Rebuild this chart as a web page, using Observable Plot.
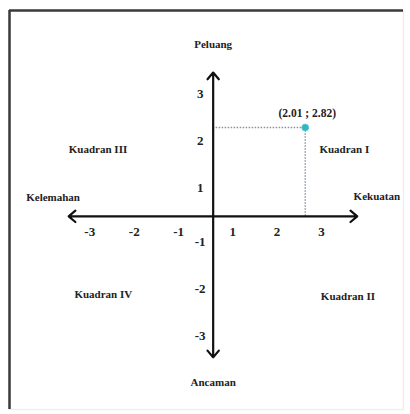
<!DOCTYPE html>
<html>
<head>
<meta charset="utf-8">
<script src="https://cdn.jsdelivr.net/npm/d3@7"></script>
<script src="https://cdn.jsdelivr.net/npm/@observablehq/plot@0.6"></script>
<style>
  html, body { margin: 0; padding: 0; background: #fff; }
  #chart svg { display: block; }
</style>
</head>
<body>
<div id="chart"></div>
<script>
// ---- data ----
const xTicks = [-3, -2, -1, 1, 2, 3];
const yTicks = [-3, -2, -1, 1, 2, 3];
const axisExtentX = [-3.25, 3.24];
const axisExtentY = [-3.0, 3.06];
const pointX = [2.07];
const pointY = [1.89];
const pointLabel = ["(2.01 ; 2.82)"];
const axisTitles = ["Peluang", "Ancaman", "Kelemahan", "Kekuatan"];
const axisTitleX = [0, 0, -3.6, 3.68];
const axisTitleY = [3.65, -3.53, 0.4, 0.43];
const quadrantNames = ["Kuadran I", "Kuadran II", "Kuadran III", "Kuadran IV"];
const quadrantX = [2.95, 3.03, -2.59, -2.47];
const quadrantY = [1.42, -1.7, 1.42, -1.67];

// ---- tables built from the arrays ----
const arrows = [
  ...axisExtentX.map(v => ({x1: 0, y1: 0, x2: v, y2: 0})),
  ...axisExtentY.map(v => ({x1: 0, y1: 0, x2: 0, y2: v}))
];
const pt = pointX.map((x, i) => ({x, y: pointY[i], label: pointLabel[i]}));
const titles = axisTitles.map((t, i) => ({t, x: axisTitleX[i], y: axisTitleY[i]}));
const quads = quadrantNames.map((t, i) => ({t, x: quadrantX[i], y: quadrantY[i]}));
const xNeg = xTicks.filter(d => d < 0), xPos = xTicks.filter(d => d > 0);
const yNeg = yTicks.filter(d => d < 0), yPos = yTicks.filter(d => d > 0);

const serif = "'Liberation Serif', 'Times New Roman', serif";
const xDomain = [-4.58, 4.28];
const yDomain = [-4.11, 4.38];
const tickStyle = {fontSize: 13, fontWeight: "bold", fill: "#222", text: d => String(d)};

const chart = Plot.plot({
  width: 410,
  height: 414,
  marginLeft: 9,
  marginTop: 10,
  marginRight: 7,
  marginBottom: 5,
  x: {domain: xDomain, axis: null},
  y: {domain: yDomain, axis: null},
  style: {fontFamily: serif, background: "#fff"},
  marks: [
    Plot.frame({stroke: "#efefef", strokeWidth: 1.5}),
    Plot.ruleX([xDomain[0]], {stroke: "#3a3a3a", strokeWidth: 2.5}),
    Plot.ruleY([yDomain[1]], {stroke: "#3a3a3a", strokeWidth: 2.5}),
    // dotted guides
    Plot.ruleY(pt, {y: "y", x1: 0, x2: "x", stroke: "#8593a3", strokeWidth: 1.4, strokeDasharray: "1.5,1.5"}),
    Plot.ruleX(pt, {x: "x", y1: 0, y2: "y", stroke: "#8593a3", strokeWidth: 1.4, strokeDasharray: "1.5,1.5"}),
    // axes with arrows
    Plot.arrow(arrows, {x1: "x1", y1: "y1", x2: "x2", y2: "y2", stroke: "#111", strokeWidth: 2.2, headLength: 6, headAngle: 80}),
    // tick labels
    Plot.text(xNeg, {x: d => d, y: d => 0, dy: 15, dx: 10, ...tickStyle}),
    Plot.text(xPos, {x: d => d, y: d => 0, dy: 15, dx: -25, ...tickStyle}),
    Plot.text(yPos, {x: d => 0, y: d => d, dx: -13, dy: 18, ...tickStyle}),
    Plot.text(yNeg, {x: d => 0, y: d => d, dx: -13, dy: -22, ...tickStyle}),
    // point
    Plot.dot(pt, {x: "x", y: "y", r: 3.5, fill: "#33b5bd", stroke: "#5fd0d5", strokeWidth: 0.8}),
    Plot.text(pt, {x: "x", y: "y", text: "label", dy: -14, dx: 2, fontSize: 11.5, fontWeight: "bold", fill: "#222"}),
    // axis titles and quadrant labels
    Plot.text(titles, {x: "x", y: "y", text: "t", fontSize: 11, fontWeight: "bold", fill: "#222"}),
    Plot.text(quads, {x: "x", y: "y", text: "t", fontSize: 11, fontWeight: "bold", fill: "#222"})
  ]
});
document.getElementById("chart").appendChild(chart);
</script>
</body>
</html>
